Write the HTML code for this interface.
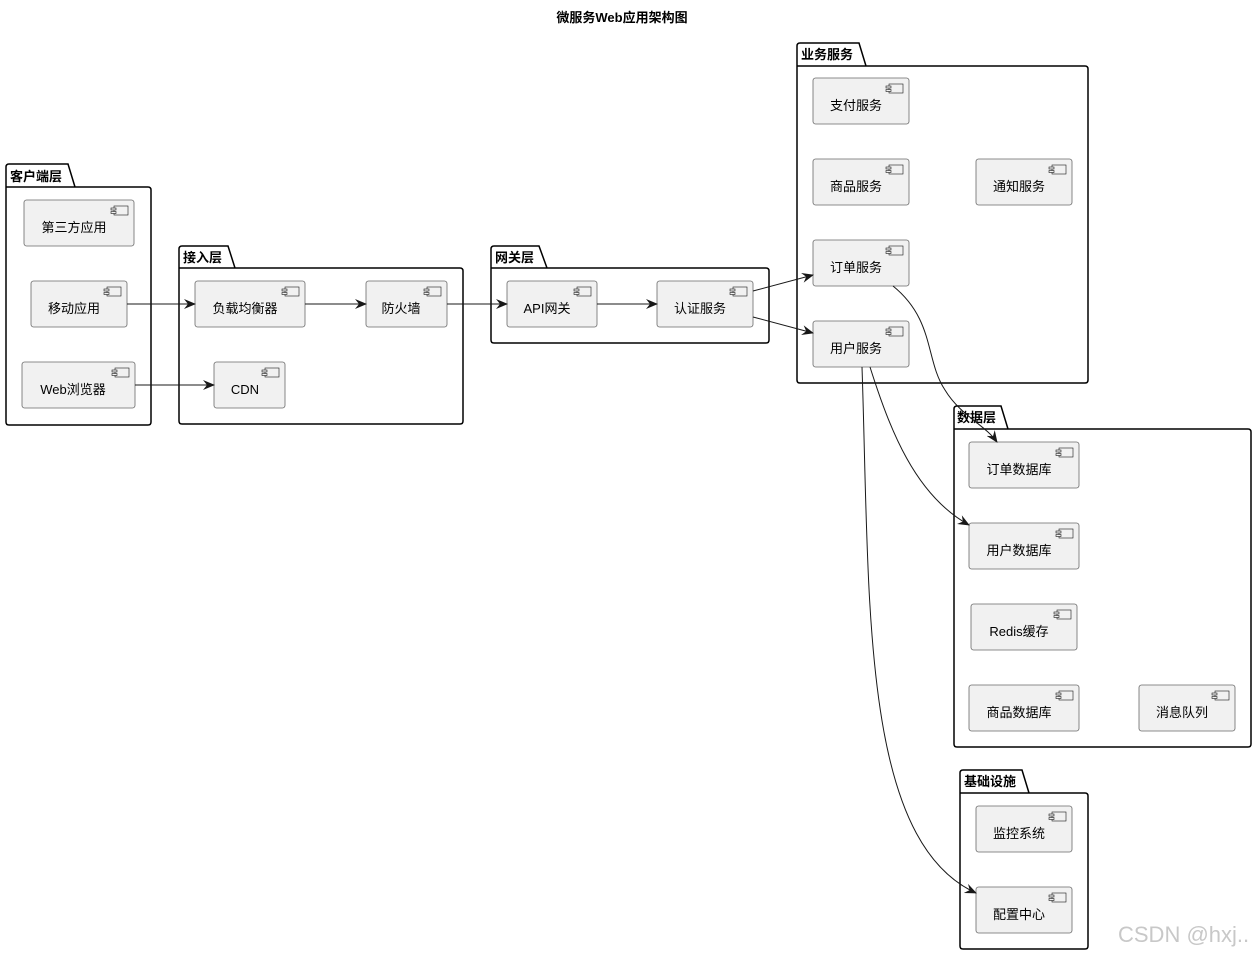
<!DOCTYPE html>
<html><head><meta charset="utf-8"><style>
html,body{margin:0;padding:0;background:#fff;}
svg{display:block;}
text{font-family:"Liberation Sans","Noto Sans CJK SC",sans-serif;}
</style></head><body>
<svg width="1257" height="955" viewBox="0 0 1257 955" xmlns="http://www.w3.org/2000/svg">
<defs>
<marker id="ar" viewBox="0 0 12 10" refX="11" refY="5" markerWidth="12" markerHeight="10" markerUnits="userSpaceOnUse" orient="auto">
<path d="M0,0 L12,5 L0,10 L4,5 Z" fill="#181818"/>
</marker>
<g id="ic"><rect x="4" y="0" width="14" height="9" fill="#F1F1F1" stroke="#181818" stroke-width="0.6"/><rect x="1" y="2" width="5" height="2" fill="#F1F1F1" stroke="#181818" stroke-width="0.6"/><rect x="1" y="5.5" width="5" height="2" fill="#F1F1F1" stroke="#181818" stroke-width="0.6"/></g>
</defs>
<text x="622" y="22" text-anchor="middle" font-size="13" font-weight="bold">微服务Web应用架构图</text>

<g fill="none" stroke="#000" stroke-width="1.5">
<path d="M6,187 L6,167 Q6,164 9,164 L68,164 L75,187 M6,187 L148,187 Q151,187 151,190 L151,422 Q151,425 148,425 L9,425 Q6,425 6,422 Z"/>
<path d="M179,268 L179,249 Q179,246 182,246 L228,246 L235,268 M179,268 L460,268 Q463,268 463,271 L463,421 Q463,424 460,424 L182,424 Q179,424 179,421 Z"/>
<path d="M491,268 L491,249 Q491,246 494,246 L539,246 L547,268 M491,268 L766,268 Q769,268 769,271 L769,340 Q769,343 766,343 L494,343 Q491,343 491,340 Z"/>
<path d="M797,66 L797,46 Q797,43 800,43 L859,43 L866,66 M797,66 L1085,66 Q1088,66 1088,69 L1088,380 Q1088,383 1085,383 L800,383 Q797,383 797,380 Z"/>
<path d="M954,429 L954,409 Q954,406 957,406 L1001,406 L1008,429 M954,429 L1248,429 Q1251,429 1251,432 L1251,744 Q1251,747 1248,747 L957,747 Q954,747 954,744 Z"/>
<path d="M960,793 L960,773 Q960,770 963,770 L1022,770 L1029,793 M960,793 L1085,793 Q1088,793 1088,796 L1088,946 Q1088,949 1085,949 L963,949 Q960,949 960,946 Z"/>
</g>
<g font-size="13" font-weight="bold">
<text x="10" y="181">客户端层</text>
<text x="183" y="262">接入层</text>
<text x="495" y="262">网关层</text>
<text x="801" y="59">业务服务</text>
<text x="957" y="422">数据层</text>
<text x="964" y="786">基础设施</text>
</g>

<g font-size="13" fill="#000" text-anchor="middle">
<g transform="translate(24,200)"><rect width="110" height="46" rx="2.5" fill="#F1F1F1" stroke="#6a6a6a" stroke-width="0.8"/><use href="#ic" x="86" y="6"/><text x="50" y="32">第三方应用</text></g>
<g transform="translate(31,281)"><rect width="96" height="46" rx="2.5" fill="#F1F1F1" stroke="#6a6a6a" stroke-width="0.8"/><use href="#ic" x="72" y="6"/><text x="43" y="32">移动应用</text></g>
<g transform="translate(22,362)"><rect width="113" height="46" rx="2.5" fill="#F1F1F1" stroke="#6a6a6a" stroke-width="0.8"/><use href="#ic" x="89" y="6"/><text x="51" y="32">Web浏览器</text></g>
<g transform="translate(195,281)"><rect width="110" height="46" rx="2.5" fill="#F1F1F1" stroke="#6a6a6a" stroke-width="0.8"/><use href="#ic" x="86" y="6"/><text x="50" y="32">负载均衡器</text></g>
<g transform="translate(366,281)"><rect width="81" height="46" rx="2.5" fill="#F1F1F1" stroke="#6a6a6a" stroke-width="0.8"/><use href="#ic" x="57" y="6"/><text x="35" y="32">防火墙</text></g>
<g transform="translate(214,362)"><rect width="71" height="46" rx="2.5" fill="#F1F1F1" stroke="#6a6a6a" stroke-width="0.8"/><use href="#ic" x="47" y="6"/><text x="31" y="32">CDN</text></g>
<g transform="translate(507,281)"><rect width="90" height="46" rx="2.5" fill="#F1F1F1" stroke="#6a6a6a" stroke-width="0.8"/><use href="#ic" x="66" y="6"/><text x="40" y="32">API网关</text></g>
<g transform="translate(657,281)"><rect width="96" height="46" rx="2.5" fill="#F1F1F1" stroke="#6a6a6a" stroke-width="0.8"/><use href="#ic" x="72" y="6"/><text x="43" y="32">认证服务</text></g>
<g transform="translate(813,78)"><rect width="96" height="46" rx="2.5" fill="#F1F1F1" stroke="#6a6a6a" stroke-width="0.8"/><use href="#ic" x="72" y="6"/><text x="43" y="32">支付服务</text></g>
<g transform="translate(813,159)"><rect width="96" height="46" rx="2.5" fill="#F1F1F1" stroke="#6a6a6a" stroke-width="0.8"/><use href="#ic" x="72" y="6"/><text x="43" y="32">商品服务</text></g>
<g transform="translate(976,159)"><rect width="96" height="46" rx="2.5" fill="#F1F1F1" stroke="#6a6a6a" stroke-width="0.8"/><use href="#ic" x="72" y="6"/><text x="43" y="32">通知服务</text></g>
<g transform="translate(813,240)"><rect width="96" height="46" rx="2.5" fill="#F1F1F1" stroke="#6a6a6a" stroke-width="0.8"/><use href="#ic" x="72" y="6"/><text x="43" y="32">订单服务</text></g>
<g transform="translate(813,321)"><rect width="96" height="46" rx="2.5" fill="#F1F1F1" stroke="#6a6a6a" stroke-width="0.8"/><use href="#ic" x="72" y="6"/><text x="43" y="32">用户服务</text></g>
<g transform="translate(969,442)"><rect width="110" height="46" rx="2.5" fill="#F1F1F1" stroke="#6a6a6a" stroke-width="0.8"/><use href="#ic" x="86" y="6"/><text x="50" y="32">订单数据库</text></g>
<g transform="translate(969,523)"><rect width="110" height="46" rx="2.5" fill="#F1F1F1" stroke="#6a6a6a" stroke-width="0.8"/><use href="#ic" x="86" y="6"/><text x="50" y="32">用户数据库</text></g>
<g transform="translate(971,604)"><rect width="106" height="46" rx="2.5" fill="#F1F1F1" stroke="#6a6a6a" stroke-width="0.8"/><use href="#ic" x="82" y="6"/><text x="48" y="32">Redis缓存</text></g>
<g transform="translate(969,685)"><rect width="110" height="46" rx="2.5" fill="#F1F1F1" stroke="#6a6a6a" stroke-width="0.8"/><use href="#ic" x="86" y="6"/><text x="50" y="32">商品数据库</text></g>
<g transform="translate(1139,685)"><rect width="96" height="46" rx="2.5" fill="#F1F1F1" stroke="#6a6a6a" stroke-width="0.8"/><use href="#ic" x="72" y="6"/><text x="43" y="32">消息队列</text></g>
<g transform="translate(976,806)"><rect width="96" height="46" rx="2.5" fill="#F1F1F1" stroke="#6a6a6a" stroke-width="0.8"/><use href="#ic" x="72" y="6"/><text x="43" y="32">监控系统</text></g>
<g transform="translate(976,887)"><rect width="96" height="46" rx="2.5" fill="#F1F1F1" stroke="#6a6a6a" stroke-width="0.8"/><use href="#ic" x="72" y="6"/><text x="43" y="32">配置中心</text></g>
</g>

<g fill="none" stroke="#181818" stroke-width="1" marker-end="url(#ar)">
<path d="M127,304 L195,304"/>
<path d="M135,385 L214,385"/>
<path d="M305,304 L366,304"/>
<path d="M447,304 L507,304"/>
<path d="M597,304 L657,304"/>
<path d="M753,291 L813,275"/>
<path d="M753,317 L813,333"/>
<path d="M893,286 C935,320 925,360 945,390 C960,415 985,425 997,442"/>
<path d="M870,367 C890,430 915,495 969,525"/>
<path d="M862,367 C870,600 860,840 976,893"/>
</g>

<text x="1118" y="942" font-size="22" fill="#c8c8c8">CSDN @hxj..</text>
</svg>
</body></html>
